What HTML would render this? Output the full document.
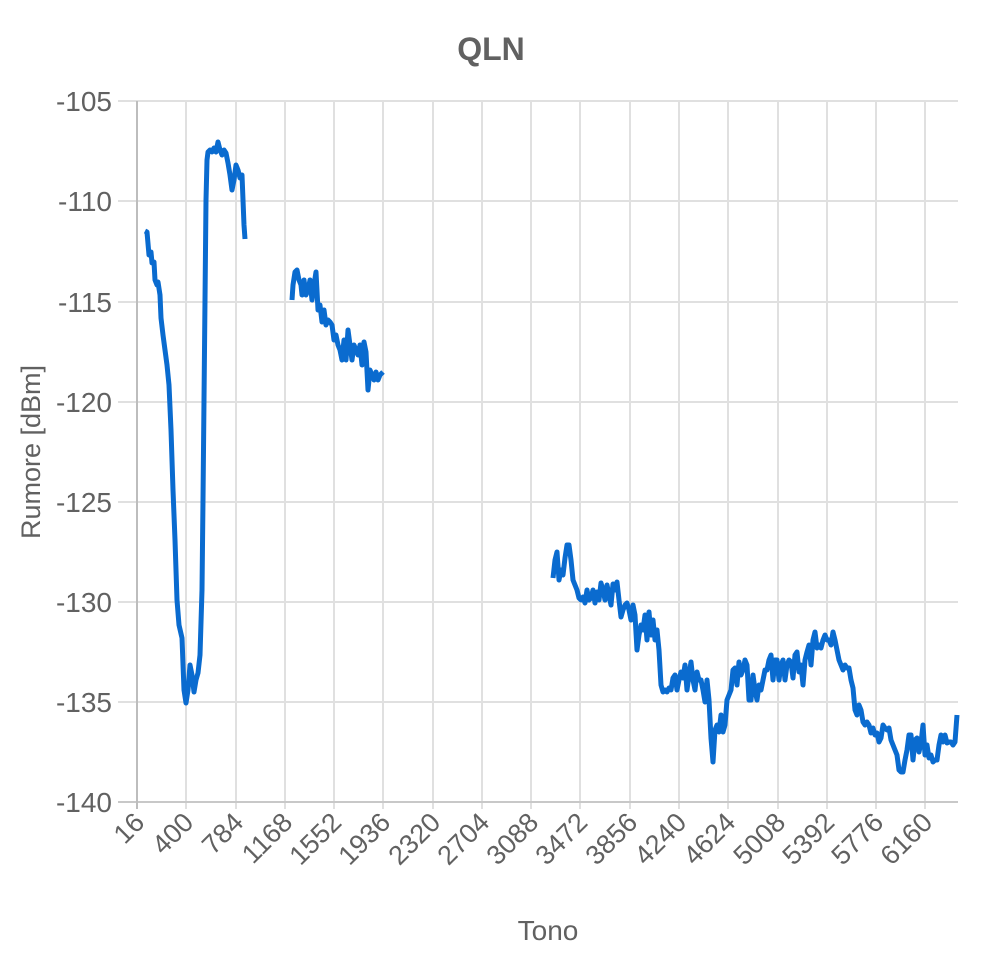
<!DOCTYPE html><html><head><style>body{margin:0;background:#fff}svg{display:block}text{font-family:"Liberation Sans",sans-serif;fill:#616161}</style></head><body>
<svg width="981" height="962" viewBox="0 0 981 962">
<text x="491" y="60" text-anchor="middle" font-size="32" font-weight="bold">QLN</text>
<g stroke="#e0e0e0" stroke-width="2">
<line x1="118" y1="101" x2="958" y2="101"/><line x1="118" y1="201" x2="958" y2="201"/><line x1="118" y1="302" x2="958" y2="302"/><line x1="118" y1="402" x2="958" y2="402"/><line x1="118" y1="502" x2="958" y2="502"/><line x1="118" y1="602" x2="958" y2="602"/><line x1="118" y1="702" x2="958" y2="702"/>
<line x1="186" y1="101" x2="186" y2="809"/><line x1="236" y1="101" x2="236" y2="809"/><line x1="285" y1="101" x2="285" y2="809"/><line x1="334" y1="101" x2="334" y2="809"/><line x1="383" y1="101" x2="383" y2="809"/><line x1="433" y1="101" x2="433" y2="809"/><line x1="482" y1="101" x2="482" y2="809"/><line x1="531" y1="101" x2="531" y2="809"/><line x1="580" y1="101" x2="580" y2="809"/><line x1="630" y1="101" x2="630" y2="809"/><line x1="679" y1="101" x2="679" y2="809"/><line x1="728" y1="101" x2="728" y2="809"/><line x1="778" y1="101" x2="778" y2="809"/><line x1="827" y1="101" x2="827" y2="809"/><line x1="876" y1="101" x2="876" y2="809"/><line x1="925" y1="101" x2="925" y2="809"/>
</g>
<line x1="118" y1="802" x2="958" y2="802" stroke="#c8c8c8" stroke-width="2"/>
<line x1="137" y1="101" x2="137" y2="809" stroke="#bdbdbd" stroke-width="2"/>
<g font-size="28" text-anchor="end">
<text x="112" y="111">-105</text><text x="112" y="211">-110</text><text x="112" y="312">-115</text><text x="112" y="412">-120</text><text x="112" y="512">-125</text><text x="112" y="612">-130</text><text x="112" y="712">-135</text><text x="112" y="812">-140</text>
</g>
<text transform="translate(40,452) rotate(-90)" text-anchor="middle" font-size="27">Rumore [dBm]</text>
<text x="548" y="940" text-anchor="middle" font-size="28">Tono</text>
<g font-size="27" text-anchor="end">
<text transform="translate(146,824) rotate(-45)">16</text><text transform="translate(195,824) rotate(-45)">400</text><text transform="translate(245,824) rotate(-45)">784</text><text transform="translate(294,824) rotate(-45)">1168</text><text transform="translate(343,824) rotate(-45)">1552</text><text transform="translate(392,824) rotate(-45)">1936</text><text transform="translate(442,824) rotate(-45)">2320</text><text transform="translate(491,824) rotate(-45)">2704</text><text transform="translate(540,824) rotate(-45)">3088</text><text transform="translate(589,824) rotate(-45)">3472</text><text transform="translate(639,824) rotate(-45)">3856</text><text transform="translate(688,824) rotate(-45)">4240</text><text transform="translate(737,824) rotate(-45)">4624</text><text transform="translate(787,824) rotate(-45)">5008</text><text transform="translate(836,824) rotate(-45)">5392</text><text transform="translate(885,824) rotate(-45)">5776</text><text transform="translate(934,824) rotate(-45)">6160</text>
</g>
<g fill="none" stroke="#0a6bcf" stroke-width="5" stroke-linejoin="round">
<polyline points="145,231 147,232 149,255 151,252 152,263 154,262 155,280 157,285 158,282 160,295 161,318 163,335 165,350 167,365 169,385 171,430 173,490 175,540 177,600 179,625 182,638 184,690 186,703 188,690 190,665 192,675 194,692 196,680 198,673 200,655 202,590 203,500 204,400 205,300 206,200 207,160 208,152 210,150 212,152 214,148 216,152 218,142 220,150 222,155 224,150 226,153 228,163 230,175 232,190 234,180 236,165 238,170 240,178 242,175 244,225 245,239"/>
<polyline points="292,300 293,285 295,272 297,270 299,280 301,285 302,295 304,280 306,295 308,290 310,280 312,300 314,285 316,272 318,310 320,305 322,322 324,310 326,325 328,320 330,322 332,325 334,340 336,335 338,345 340,350 342,360 344,340 346,360 348,330 350,345 352,360 354,345 356,350 358,355 360,345 362,365 364,342 366,352 368,390 370,370 372,375 374,380 376,372 378,380 380,375 383,372"/>
<polyline points="553,578 555,560 557,552 559,580 561,570 563,575 565,558 567,545 569,545 571,560 573,580 575,585 577,590 579,598 581,600 583,597 585,603 587,590 589,600 591,598 593,590 595,603 597,592 599,600 601,583 603,590 605,600 607,585 609,595 611,605 613,584 615,590 617,582 619,600 621,617 623,610 625,605 627,603 629,610 631,620 633,605 635,615 637,650 639,635 641,625 643,630 645,615 647,640 649,612 651,635 653,620 655,640 657,630 659,650 661,685 663,692 665,690 667,692 669,688 671,690 673,678 675,675 677,690 679,680 681,672 683,678 685,665 687,690 689,675 691,662 693,680 695,690 697,672 699,680 701,680 703,690 705,702 707,680 709,700 711,738 713,762 715,730 717,725 719,732 721,715 723,732 725,725 727,700 729,695 731,690 733,670 735,668 737,685 739,662 741,675 743,670 745,660 747,665 749,700 751,700 753,675 755,690 757,700 759,685 761,690 763,680 765,670 767,670 769,660 771,655 773,680 775,660 777,660 779,680 781,665 783,660 785,680 787,665 789,660 791,662 793,678 795,655 797,652 799,672 801,665 803,685 805,660 807,652 809,645 811,665 813,640 815,632 817,648 819,645 821,648 823,640 825,635 827,640 829,640 831,645 833,632 835,640 837,650 839,660 841,665 843,670 845,665 847,668 849,668 851,680 853,688 855,710 857,715 859,705 861,710 863,722 865,725 867,722 869,725 871,733 873,728 875,735 877,733 879,742 881,738 883,725 885,728 887,730 889,728 891,740 893,745 895,750 897,755 899,770 901,772 903,772 905,760 907,750 909,735 911,735 913,760 915,740 917,738 919,752 921,743 923,725 925,755 927,745 929,758 931,755 933,762 935,760 937,760 939,745 941,735 943,742 945,735 947,743 949,742 951,742 953,745 955,742 957,715"/>
</g>
</svg></body></html>
